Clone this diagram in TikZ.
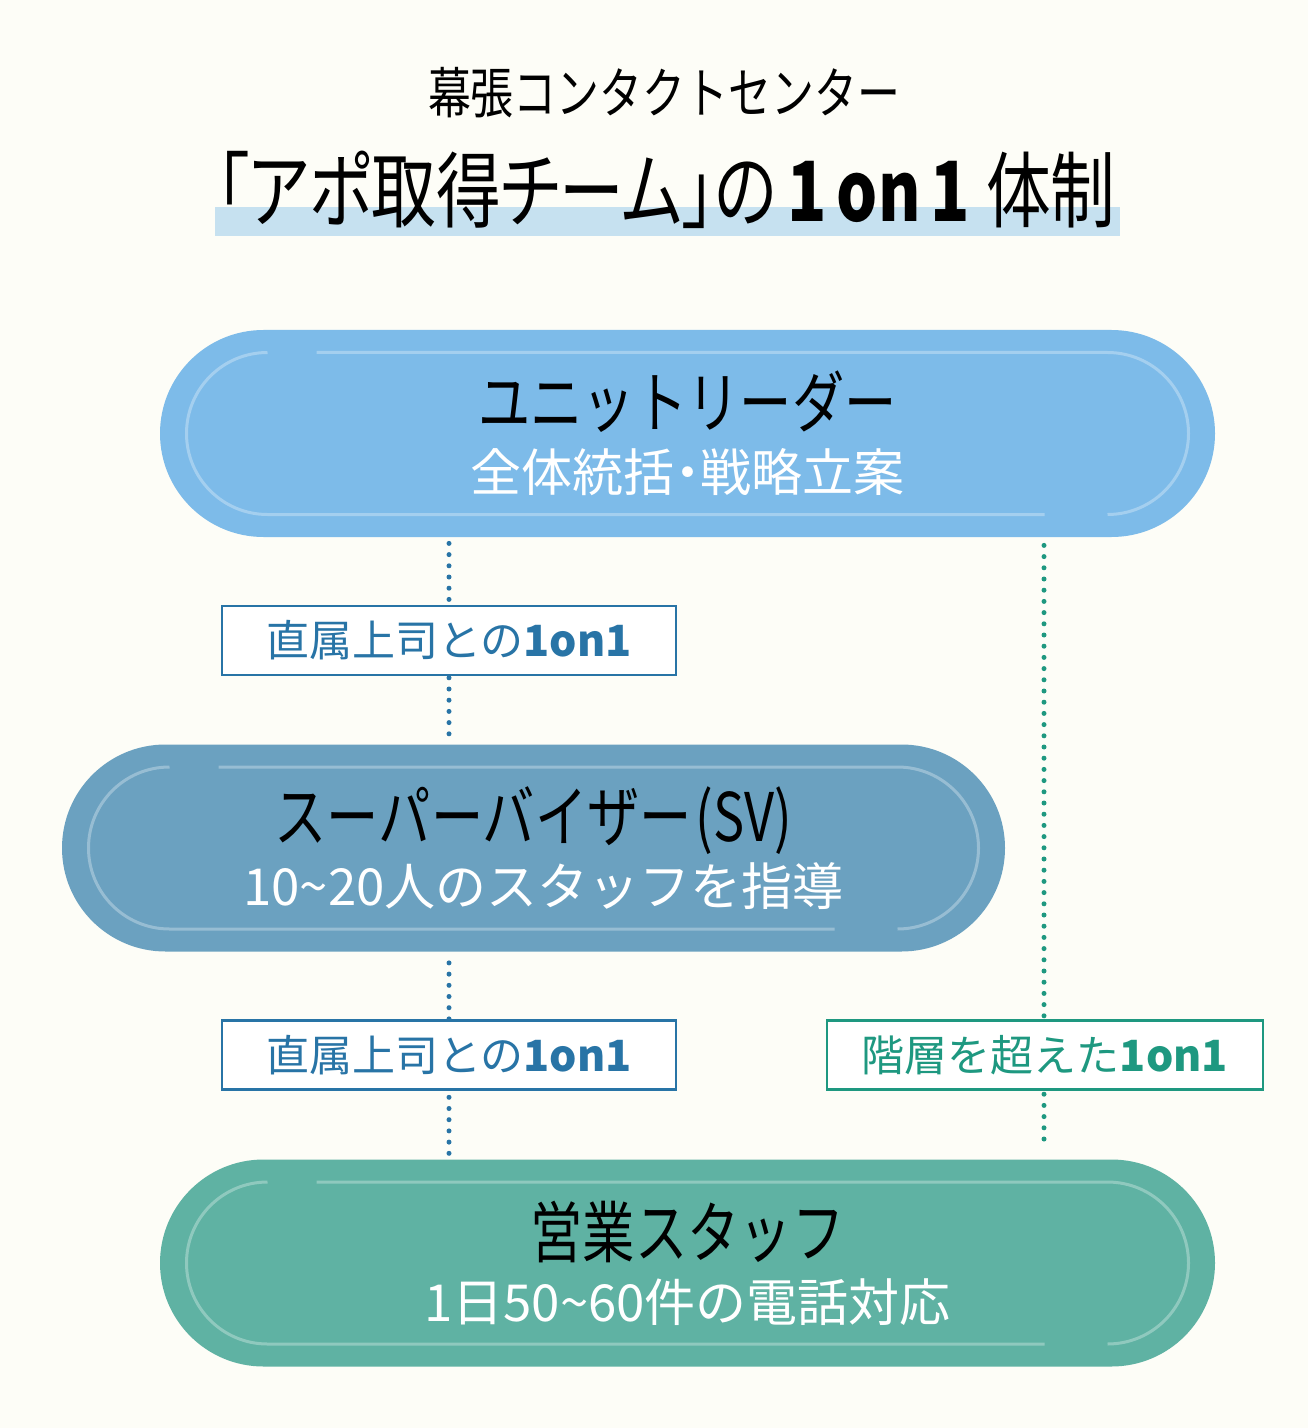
\documentclass[tikz,border=0pt]{standalone}
\usepackage{fontspec}
\setmainfont{Noto Sans CJK JP}
\newfontfamily\headfont[FakeStretch=0.78]{Noto Sans CJK JP}
\newfontfamily\bannerfont[FakeStretch=0.78,RawFeature=+palt]{Noto Sans CJK JP}
\usetikzlibrary{positioning,shapes.misc}
\definecolor{PaperBg}{HTML}{FDFDF7}
\definecolor{MarkBlue}{HTML}{C6E1F0}
\definecolor{UnitBlue}{HTML}{7DBBE9}
\definecolor{SvBlue}{HTML}{6BA1C0}
\definecolor{StaffGreen}{HTML}{5FB2A3}
\definecolor{LinkBlue}{HTML}{2874A6}
\definecolor{LinkGreen}{HTML}{1E9880}
\tikzset{
  pill/.style={rounded rectangle, minimum height=103.5pt, inner sep=0pt,
               align=center, text=white,
               font=\fontsize{25.5pt}{32pt}\selectfont},
  unitpill/.style={pill, fill=UnitBlue, minimum width=527.5pt},
  svpill/.style={pill, fill=SvBlue, minimum width=471.5pt},
  staffpill/.style={pill, fill=StaffGreen, minimum width=527.5pt},
  rim/.style={draw=white, draw opacity=0.3, line width=1.5pt},
  tag/.style={draw, fill=white, line width=1.4pt, minimum height=34.5pt,
              inner sep=0pt, font=\fontsize{21.5pt}{24pt}\selectfont},
  linkline/.style={line width=2.5pt, line cap=round,
                   dash pattern=on 0pt off 5.6pt}
}
% pill title and inner rim (node, half length between arc centres)
\newcommand\pillhead[1]{{\headfont\fontsize{33.5pt}{34pt}\selectfont\color{black}#1}}
\newcommand\narrowdot{{\addfontfeature{RawFeature=+palt}・}}
\newcommand\pillrim[2]{%
  \draw[rim, shift={(#1.center)}] (-#2+49,-81) -- (#2,-81)
    arc[start angle=-90, end angle=90, radius=81];
  \draw[rim, shift={(#1.center)}] (#2-63,81) -- (-#2,81)
    arc[start angle=90, end angle=270, radius=81];
}

\begin{document}
\begin{tikzpicture}[x=0.5pt, y=-0.5pt]
  \useasboundingbox[fill=PaperBg] (0,0) rectangle (1308,1428);

  % heading
  \node[font=\headfont\fontsize{27.5pt}{30pt}\selectfont] (place) at (664,93)
    {幕張コンタクトセンター};
  \fill[MarkBlue] (215,207) rectangle (1120,236);
  \node[font=\bannerfont\fontsize{41.5pt}{44pt}\selectfont] (heading) at (666,190)
    {「アポ取得チーム」の\kern5pt{\bfseries 1\kern5pt on\kern5pt 1}\kern8pt 体制};

  % levels
  \node[unitpill] (leader) at (687.5,433.5)
    {\pillhead{ユニットリーダー}\\全体統括\narrowdot 戦略立案};
  \node[svpill] (sv) at (533.5,848)
    {\pillhead{スーパーバイザー\kern2pt(SV)}\\\hspace*{10pt}10\textasciitilde20人のスタッフを指導};
  \node[staffpill] (staff) at (687.5,1263)
    {\pillhead{営業スタッフ}\\1日50\textasciitilde60件の電話対応};
  \pillrim{leader}{420}
  \pillrim{sv}{364}
  \pillrim{staff}{420}

  % 1on1 links
  \coordinate (directcol) at (449,0);
  \coordinate (skipcol) at (1044,0);
  \draw[linkline, LinkBlue, shorten <=3pt, shorten >=2.5pt]
    (leader.south -| directcol) -- (sv.north -| directcol);
  \draw[linkline, LinkBlue, shorten <=5.5pt, shorten >=2.5pt]
    (sv.south -| directcol) -- (staff.north -| directcol);
  \draw[linkline, LinkGreen, shorten <=4pt, shorten >=6pt]
    (leader.south -| skipcol) -- (staff.north -| skipcol);

  \node[tag, draw=LinkBlue, text=LinkBlue, minimum width=227pt] (direct1)
    at (449,640.5) {直属上司との\textbf{1on1}};
  \node[tag, draw=LinkBlue, text=LinkBlue, minimum width=227pt] (direct2)
    at (449,1055) {直属上司との\textbf{1on1}};
  \node[tag, draw=LinkGreen, text=LinkGreen, minimum width=218pt] (skip)
    at (1045,1055) {階層を超えた\textbf{1on1}};
\end{tikzpicture}
\end{document}
